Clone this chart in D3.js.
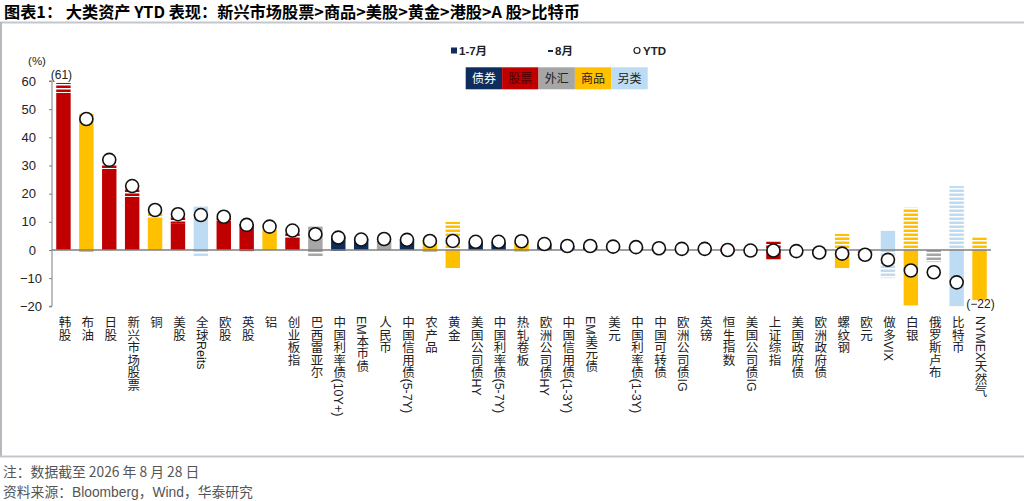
<!DOCTYPE html>
<html><head><meta charset="utf-8">
<script src="https://cdn.jsdelivr.net/npm/d3@7"></script>
<style>
body{margin:0;background:#fff;}
svg{display:block;font-family:"Liberation Sans",Arial,"Noto Sans CJK SC",sans-serif;}
</style>
</head><body>
<svg id="chart" width="1024" height="501"></svg>
<script>
// ---------- data ----------
const categories = ["韩股","布油","日股","新兴市场股票","铜","美股","全球Reits","欧股","英股","铝","创业板指","巴西雷亚尔","中国利率债(10Y+)","EM本币债","人民币","中国信用债(5-7Y)","农产品","黄金","美国公司债HY","中国利率债(5-7Y)","热轧卷板","欧洲公司债HY","中国信用债(1-3Y)","EM美元债","美元","中国利率债(1-3Y)","中国可转债","欧洲公司债IG","英镑","恒生指数","美国公司债IG","上证综指","美国政府债","欧洲政府债","螺纹钢","欧元","做多VIX","白银","俄罗斯卢布","比特币","NYMEX天然气"];
const groups = ["股票","商品","股票","股票","商品","股票","另类","股票","股票","商品","股票","外汇","债券","债券","外汇","债券","商品","商品","债券","债券","商品","债券","债券","债券","外汇","债券","债券","债券","外汇","股票","债券","股票","债券","债券","商品","外汇","另类","商品","外汇","另类","商品"];
const janJul = [55.8,48.3,28.8,18.9,11.0,9.3,15.4,10.5,9.2,7.2,4.3,8.3,4.8,3.6,3.4,3.5,3.6,-6.4,2.6,2.8,3.0,2.0,1.3,1.2,0.9,0.9,0.5,0.3,0.3,0.6,-0.1,-3.3,-0.3,-0.6,-6.4,-1.2,6.8,-19.7,-0.3,-20.1,-17.8];
const august = [3.5,-1.0,1.6,2.6,2.6,2.5,-2.5,0.8,-0.4,0.6,2.0,-2.5,-0.3,0.3,0.5,0.2,-0.8,10.0,0.4,0.1,-0.6,0.2,0.1,0.2,0.3,0.1,0.1,0.1,0.1,-0.7,-0.1,3.0,-0.1,-0.3,5.7,-0.4,-10.0,15.0,-4.0,22.7,4.5];
const ytd = [61,46.5,32.0,22.7,14.2,12.7,12.4,11.8,8.9,8.3,6.9,5.6,4.4,3.7,3.9,3.6,3.2,3.2,2.9,2.9,3.1,2.1,1.4,1.4,1.2,1.0,0.6,0.4,0.4,0.0,-0.2,-0.2,-0.4,-0.9,-1.3,-1.7,-3.5,-7.3,-7.9,-11.5,-22];
const yTicks = [-20,-10,0,10,20,30,40,50,60];
const groupNames = ["债券","股票","外汇","商品","另类"];
const groupColors = ["#0f2d5c","#c00000","#a6a6a6","#ffc000","#bddcf3"];
const groupTextColors = ["#ffffff","#4a0000","#222222","#222222","#222222"];
const seriesNames = ["1-7月","8月","YTD"];
const titleText = "图表1：  大类资产 YTD 表现：新兴市场股票>商品>美股>黄金>港股>A 股>比特币";
const noteText = "注：数据截至 2026 年 8 月 28 日";
const sourceText = "资料来源：Bloomberg，Wind，华泰研究";

// ---------- setup ----------
const svg = d3.select("#chart");
const color = d3.scaleOrdinal().domain(groupNames).range(groupColors);
const textColor = d3.scaleOrdinal().domain(groupNames).range(groupTextColors);
const x = d3.scaleBand().domain(categories).range([52, 991]).paddingInner(0.37).paddingOuter(0.185);
const y = d3.scaleLinear().domain([-20, 60]).range([306.3, 81]);

// stripe patterns
const defs = svg.append("defs");
groupNames.forEach((g, i) => {
  const p = defs.append("pattern").attr("id", "stripe" + i)
    .attr("patternUnits", "userSpaceOnUse").attr("width", 8).attr("height", 4);
  p.append("rect").attr("width", 8).attr("height", 4).attr("fill", color(g));
  p.append("rect").attr("y", 0).attr("width", 8).attr("height", 1.5).attr("fill", "#ffffff");
});
defs.append("clipPath").attr("id", "plotclip").append("rect")
  .attr("x", 52).attr("y", y(60)).attr("width", 960).attr("height", y(-20) - y(60));

// ---------- frame ----------
svg.append("text").attr("x", 4).attr("y", 17.5)
  .attr("font-family", "'Noto Sans CJK SC',sans-serif").attr("font-weight", 700)
  .attr("font-size", 16.2).attr("fill", "#000").text(titleText);
svg.append("rect").attr("x", 0).attr("y", 21.5).attr("width", 1024).attr("height", 2).attr("fill", "#c3c7cd");
svg.append("rect").attr("x", 0).attr("y", 22).attr("width", 2).attr("height", 434).attr("fill", "#b5b8bd");
svg.append("rect").attr("x", 0).attr("y", 455.5).attr("width", 1024).attr("height", 2).attr("fill", "#c3c7cd");
svg.append("text").attr("x", 3).attr("y", 477)
  .attr("font-family", "'Noto Sans CJK SC','Liberation Sans',sans-serif")
  .attr("font-size", 13.8).attr("fill", "#555").text(noteText);
svg.append("text").attr("x", 3).attr("y", 497)
  .attr("font-family", "'Liberation Sans','Noto Sans CJK SC',sans-serif")
  .attr("font-size", 13.8).attr("fill", "#555").text(sourceText);

// ---------- stacked segments ----------
const segs = [];
categories.forEach((c, i) => {
  let pos = 0, neg = 0;
  [janJul[i], august[i]].forEach((v, k) => {
    let y0, y1;
    if (v >= 0) { y0 = pos; y1 = pos + v; pos = y1; }
    else { y0 = neg; y1 = neg + v; neg = y1; }
    segs.push({cat: c, group: groups[i], k, y0, y1});
  });
});
const plot = svg.append("g").attr("clip-path", "url(#plotclip)");
plot.selectAll("rect.seg").data(segs).join("rect").attr("class", "seg")
  .attr("x", d => x(d.cat)).attr("width", x.bandwidth())
  .attr("y", d => y(Math.max(d.y0, d.y1)))
  .attr("height", d => Math.abs(y(d.y0) - y(d.y1)))
  .attr("fill", d => d.k === 0 ? color(d.group) : "url(#stripe" + groupNames.indexOf(d.group) + ")");

// ---------- axes ----------
svg.append("line").attr("x1", 52).attr("x2", 991).attr("y1", y(0)).attr("y2", y(0))
  .attr("stroke", "#7f7f7f").attr("stroke-width", 1.3);
const yAxis = svg.append("g").attr("transform", "translate(52,0)")
  .call(d3.axisLeft(y).tickValues(yTicks).tickSize(3).tickPadding(5).tickFormat(d3.format("d")));
yAxis.select(".domain").attr("stroke", "#7f7f7f").attr("d", `M-3,${y(60)}H0V${y(-20)}H-3`);
yAxis.selectAll(".tick line").attr("stroke", "#7f7f7f");
yAxis.selectAll(".tick text").attr("font-size", 13).attr("fill", "#222")
  .attr("font-family", "'Liberation Sans',Arial,sans-serif")
  .attr("x", d => d < 0 ? -10 : -16);
svg.append("text").attr("x", 37).attr("y", 65).attr("text-anchor", "middle")
  .attr("font-size", 11.5).attr("fill", "#222").text("(%)");

// x labels (vertical)
svg.append("g").selectAll("text").data(categories).join("text")
  .attr("x", d => x(d) + x.bandwidth() / 2).attr("y", 316)
  .attr("style", "writing-mode: vertical-rl")
  .attr("font-family", "'Liberation Sans','Noto Sans CJK SC',sans-serif")
  .attr("font-size", 12.5).attr("fill", "#222").text(d => d);

// ---------- YTD circles ----------
const ytdData = categories.map((c, i) => ({cat: c, v: ytd[i]}));
svg.append("g").selectAll("circle").data(ytdData.filter(d => d.v <= 60 && d.v >= -20)).join("circle")
  .attr("cx", d => x(d.cat) + x.bandwidth() / 2).attr("cy", d => y(d.v)).attr("r", 6.5)
  .attr("fill", "#fff").attr("stroke", "#111").attr("stroke-width", 1.6);
svg.append("g").selectAll("text").data(ytdData.filter(d => d.v > 60 || d.v < -20)).join("text")
  .attr("x", d => x(d.cat) + x.bandwidth() / 2 + (d.v > 60 ? -2 : 1))
  .attr("y", d => d.v > 60 ? y(60) - 2 : y(-20) + 2)
  .attr("text-anchor", "middle").attr("font-size", 12).attr("fill", "#222")
  .text(d => "(" + d3.format("d")(d.v) + ")");

// ---------- legend ----------
const lg = svg.append("g").attr("font-family", "'Liberation Sans','Noto Sans CJK SC',sans-serif")
  .attr("font-weight", 700).attr("font-size", 11.5).attr("fill", "#222");
lg.append("rect").attr("x", 451).attr("y", 47.5).attr("width", 6).attr("height", 6).attr("fill", groupColors[0]);
lg.append("text").attr("x", 459).attr("y", 55).text(seriesNames[0]);
lg.append("rect").attr("x", 548).attr("y", 50).attr("width", 5).attr("height", 2).attr("fill", groupColors[0]);
lg.append("text").attr("x", 555).attr("y", 55).text(seriesNames[1]);
lg.append("circle").attr("cx", 637).attr("cy", 50.5).attr("r", 3).attr("fill", "#fff").attr("stroke", "#222").attr("stroke-width", 1.2);
lg.append("text").attr("x", 643).attr("y", 55).text(seriesNames[2]);
const boxW = 36.4;
const bx = svg.append("g").selectAll("g").data(groupNames).join("g")
  .attr("transform", (d, i) => `translate(${465.7 + i * boxW},67.3)`);
bx.append("rect").attr("width", boxW).attr("height", 22).attr("fill", d => color(d));
bx.append("text").attr("x", boxW / 2).attr("y", 15.5).attr("text-anchor", "middle")
  .attr("font-family", "'Noto Sans CJK SC',sans-serif").attr("font-size", 12)
  .attr("fill", d => textColor(d)).text(d => d);
</script>
</body></html>
